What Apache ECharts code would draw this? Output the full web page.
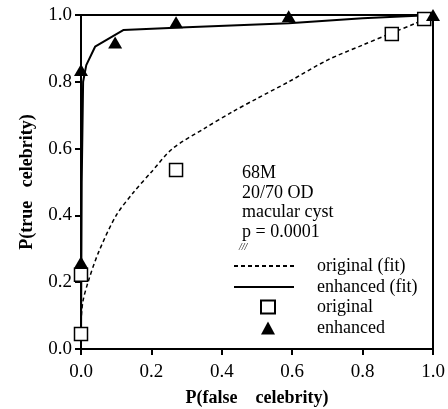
<!DOCTYPE html>
<html>
<head>
<meta charset="utf-8">
<script src="https://cdn.jsdelivr.net/npm/echarts@6/dist/echarts.min.js"></script>
<style>
  html, body { margin: 0; padding: 0; background: #fff; }
  #chart { width: 448px; height: 409px; }
</style>
</head>
<body>
<div id="chart"></div>
<script>
// measured points
const originalPts = [[0, 0.045], [0, 0.222], [0.27, 0.536], [0.883, 0.943], [0.975, 0.988]]
const enhancedPts = [[0, 0.26], [0, 0.835], [0.097, 0.918], [0.27, 0.978], [0.59, 0.996], [1.0, 1.0]]

// fitted ROC curves
const originalFit = [[0, 0.08], [0.005, 0.14], [0.02, 0.2], [0.05, 0.29], [0.1, 0.4], [0.15, 0.47],
  [0.2, 0.53], [0.26, 0.6], [0.35, 0.66], [0.43, 0.71], [0.5, 0.75], [0.59, 0.8], [0.7, 0.865],
  [0.8, 0.91], [0.88, 0.945], [0.95, 0.975], [1, 1]]
const enhancedFit = [[0, 0.0], [0.002, 0.5], [0.006, 0.8], [0.015, 0.85], [0.04, 0.905], [0.12, 0.955],
  [0.3, 0.963], [0.59, 0.975], [0.8, 0.99], [1, 1]]

const infoLines = ['68M', '20/70 OD', 'macular cyst', 'p = 0.0001']

const serif = '"Liberation Serif", "DejaVu Serif", serif'

const chart = echarts.init(document.getElementById('chart'))

const axisCommon = {
  type: 'value',
  min: 0,
  max: 1,
  interval: 0.2,
  nameLocation: 'middle',
  nameTextStyle: { fontFamily: serif, fontSize: 18, fontWeight: 'bold', color: '#000' },
  axisLine: { show: true, lineStyle: { color: '#000', width: 2 } },
  axisTick: { show: true, length: 6, lineStyle: { color: '#000', width: 2 } },
  axisLabel: { fontFamily: serif, fontSize: 19, color: '#000', formatter: v => v.toFixed(1) },
  splitLine: { show: false }
}

const legendText = { fontFamily: serif, fontSize: 18, color: '#000', lineHeight: 20 }

chart.setOption({
  animation: false,
  backgroundColor: '#fff',
  grid: {
    left: 81, right: 15, top: 15, bottom: 60,
    outerBoundsMode: 'none',
    show: true, borderColor: '#000', borderWidth: 2
  },
  xAxis: Object.assign({}, axisCommon, {
    name: 'P(false    celebrity)',
    nameGap: 40,
    axisLabel: Object.assign({}, axisCommon.axisLabel, { margin: 14 })
  }),
  yAxis: Object.assign({}, axisCommon, {
    name: 'P(true   celebrity)',
    nameGap: 45,
    axisLabel: Object.assign({}, axisCommon.axisLabel, { margin: 9 })
  }),
  legend: [
    {
      orient: 'vertical',
      left: 233,
      top: 256,
      padding: 0,
      itemWidth: 60,
      itemHeight: 13,
      itemGap: 1,
      itemStyle: { opacity: 0 },
      textStyle: Object.assign({ padding: [0, 0, 0, 18] }, legendText),
      data: ['original (fit)', 'enhanced (fit)']
    },
    {
      orient: 'vertical',
      left: 260,
      top: 297,
      padding: 0,
      itemWidth: 14,
      itemHeight: 13,
      itemGap: 1,
      textStyle: Object.assign({ padding: [0, 0, 0, 37] }, legendText),
      data: ['original', 'enhanced']
    }
  ],
  graphic: [
    {
      type: 'text',
      left: 242,
      top: 164,
      style: {
        text: infoLines.join('\n'),
        font: '18px ' + serif,
        lineHeight: 19.5,
        fill: '#000'
      }
    },
    {
      type: 'text',
      left: 239,
      top: 242,
      style: { text: '///', font: 'italic 10px ' + serif, fill: '#000' }
    }
  ],
  series: [
    {
      name: 'original (fit)',
      type: 'line',
      data: originalFit,
      symbol: 'none',
      smooth: 0.3,
      lineStyle: { color: '#000', width: 1.5, type: [4, 3] },
      itemStyle: { color: '#000' },
      z: 2
    },
    {
      name: 'enhanced (fit)',
      type: 'line',
      data: enhancedFit,
      symbol: 'none',
      lineStyle: { color: '#000', width: 2 },
      itemStyle: { color: '#000' },
      z: 2
    },
    {
      name: 'original',
      type: 'scatter',
      data: originalPts,
      symbol: 'rect',
      symbolSize: 13,
      itemStyle: { color: '#fff', borderColor: '#000', borderWidth: 1.5, opacity: 1 },
      clip: false,
      z: 3
    },
    {
      name: 'enhanced',
      type: 'scatter',
      data: enhancedPts,
      symbol: 'triangle',
      symbolSize: [14, 12],
      itemStyle: { color: '#000', opacity: 1 },
      clip: false,
      z: 4
    }
  ]
})
</script>
</body>
</html>
